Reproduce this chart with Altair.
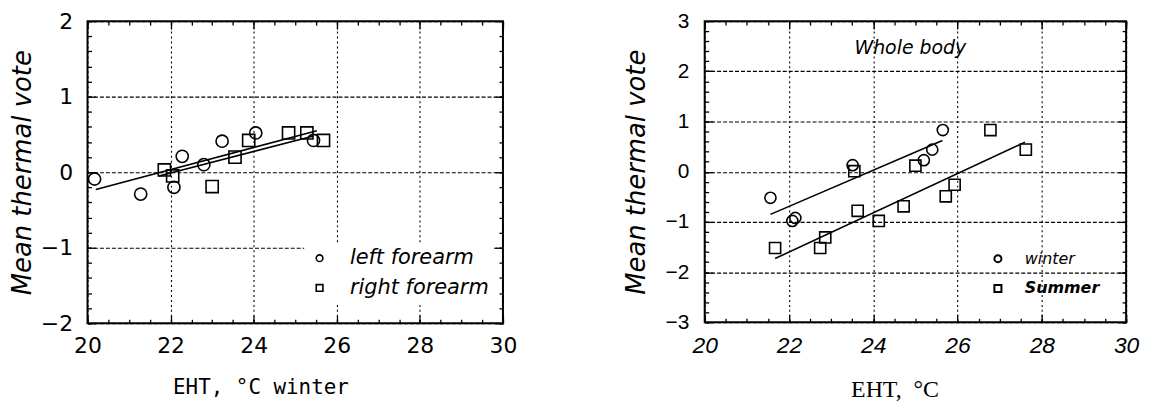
import altair as alt
import pandas as pd

# ---------------- data: left panel (winter, forearms) ----------------
lf_x = [20.17, 21.28, 22.08, 22.28, 22.8, 23.24, 24.05, 25.44]
lf_y = [-0.09, -0.29, -0.2, 0.21, 0.1, 0.41, 0.52, 0.42]
rf_x = [21.85, 22.05, 23.0, 23.55, 23.88, 24.84, 25.28, 25.68]
rf_y = [0.03, -0.05, -0.19, 0.2, 0.42, 0.52, 0.52, 0.42]
lf_fit_x = [20.2, 25.52]
lf_fit_y = [-0.23, 0.55]
rf_fit_x = [21.72, 25.44]
rf_fit_y = [-0.05, 0.48]
left_series = ["left forearm", "right forearm"]

# ---------------- data: right panel (whole body) ----------------
wi_x = [21.56, 22.08, 22.15, 23.51, 25.2, 25.4, 25.65]
wi_y = [-0.52, -0.98, -0.92, 0.13, 0.23, 0.44, 0.83]
su_x = [21.67, 22.74, 22.86, 23.55, 23.63, 24.13, 24.72, 25.0, 25.72, 25.93, 26.78, 27.62]
su_y = [-1.52, -1.52, -1.31, 0.01, -0.78, -0.98, -0.69, 0.12, -0.49, -0.26, 0.83, 0.44]
wi_fit_x = [21.56, 25.64]
wi_fit_y = [-0.85, 0.62]
su_fit_x = [21.67, 27.6]
su_fit_y = [-1.73, 0.59]
right_series = ["winter", "Summer"]
note_text = ["Whole body"]
note_x = [24.88]
note_y = [2.47]

x_domain = [20, 30]
left_y_domain = [-2, 2]
right_y_domain = [-3, 3]

x_major = [20, 22, 24, 26, 28, 30]
x_minor = [20 + 0.5 * i for i in range(21)]
left_y_major = [-2, -1, 0, 1, 2]
left_y_minor = [round(-2 + 0.2 * i, 1) for i in range(21)]
right_y_major = [-3, -2, -1, 0, 1, 2, 3]
right_y_minor = [round(-3 + 0.2 * i, 1) for i in range(31)]


def pts_df(xs1, ys1, xs2, ys2, names):
    return pd.DataFrame({
        "eht": xs1 + xs2,
        "vote": ys1 + ys2,
        "series": [names[0]] * len(xs1) + [names[1]] * len(xs2),
    })


left_pts = pts_df(lf_x, lf_y, rf_x, rf_y, left_series)
left_fit = pts_df(lf_fit_x, lf_fit_y, rf_fit_x, rf_fit_y, left_series)
right_pts = pts_df(wi_x, wi_y, su_x, su_y, right_series)
right_fit = pts_df(wi_fit_x, wi_fit_y, su_fit_x, su_fit_y, right_series)
note_df = pd.DataFrame({"eht": note_x, "vote": note_y, "text": note_text})

MAJ = 8
MIN = 4


def main_x_axis(title, lfont, lstyle, lsize, tfont, tsize, title_x):
    return alt.Axis(
        values=x_major, format="d", title=title, orient="bottom",
        labelOverlap=False, labelFlush=False,
        labelFont=lfont, labelFontStyle=lstyle, labelFontSize=lsize, labelColor="black",
        labelPadding=12, offset=-MAJ, tickSize=MAJ, tickColor="black", tickWidth=1.3,
        domain=False, grid=True, gridColor="black", gridWidth=1.1, gridDash=[2, 3],
        titleFont=tfont, titleFontSize=tsize, titleFontWeight="normal",
        titleColor="black", titlePadding=21, titleX=title_x,
    )


def main_y_axis(values, lfont, lsize, lpad, tpad):
    return alt.Axis(
        values=values, format="d", title="Mean thermal vote", orient="left",
        labelOverlap=False, labelFlush=False,
        labelFont=lfont, labelFontSize=lsize, labelColor="black",
        labelPadding=lpad, offset=-MAJ, tickSize=MAJ, tickColor="black", tickWidth=1.3,
        domain=False, grid=True, gridColor="black", gridWidth=1.1, gridDash=[4, 2],
        titleFont="DejaVu Sans", titleFontSize=26, titleFontStyle="italic",
        titleFontWeight="normal", titleColor="black", titlePadding=tpad,
    )


def tick_axis(values, orient, size):
    return alt.Axis(
        values=values, orient=orient, labels=False, domain=False, grid=False, title=None,
        offset=-size, tickSize=size, tickColor="black", tickWidth=1.3,
    )


def panel(pts, fit, y_domain, y_major, y_minor, names, xaxis, yaxis, legend, psize):
    xs = alt.Scale(domain=x_domain, nice=False, zero=False)
    ys = alt.Scale(domain=y_domain, nice=False, zero=False)
    points = alt.Chart(pts).mark_point(
        filled=False, color="black", strokeWidth=1.6, opacity=1, size=psize
    ).encode(
        x=alt.X("eht:Q", scale=xs, axis=xaxis),
        y=alt.Y("vote:Q", scale=ys, axis=yaxis),
        shape=alt.Shape("series:N", scale=alt.Scale(domain=names, range=["circle", "square"]),
                        legend=legend),
    )
    lines = alt.Chart(fit).mark_line(color="black", strokeWidth=1.6).encode(
        x=alt.X("eht:Q", scale=xs, axis=tick_axis(x_major, "top", MAJ)),
        y=alt.Y("vote:Q", scale=ys, axis=tick_axis(y_major, "right", MAJ)),
        detail="series:N",
    )
    minor_a = alt.Chart(fit).mark_line(strokeOpacity=0).encode(
        x=alt.X("eht:Q", scale=xs, axis=tick_axis(x_minor, "bottom", MIN)),
        y=alt.Y("vote:Q", scale=ys, axis=tick_axis(y_minor, "left", MIN)),
        detail="series:N",
    )
    minor_b = alt.Chart(fit).mark_line(strokeOpacity=0).encode(
        x=alt.X("eht:Q", scale=xs, axis=tick_axis(x_minor, "top", MIN)),
        y=alt.Y("vote:Q", scale=ys, axis=tick_axis(y_minor, "right", MIN)),
        detail="series:N",
    )
    return [points, lines, minor_a, minor_b]


left_legend = alt.Legend(
    orient="none", legendX=218, legendY=223, title=None, direction="vertical",
    labelFont="DejaVu Sans", labelFontStyle="italic", labelFontSize=21, labelColor="black",
    symbolSize=45, symbolStrokeWidth=1.6, symbolStrokeColor="black", symbolFillColor="transparent",
    rowPadding=8, labelOffset=20, fillColor="white", padding=5,
)
right_legend = alt.Legend(
    orient="none", legendX=282, legendY=226, title=None, direction="vertical",
    labelFont="DejaVu Sans", labelFontStyle="italic", labelFontSize=16, labelColor="black",
    labelFontWeight=alt.ExprRef(expr="datum.label == 'Summer' ? 'bold' : 'normal'"),
    symbolSize=50, symbolStrokeWidth=2, symbolStrokeColor="black", symbolFillColor="transparent",
    rowPadding=14, labelOffset=19, padding=5,
)

left_layers = panel(
    left_pts, left_fit, left_y_domain, left_y_major, left_y_minor, left_series,
    main_x_axis("EHT, °C winter", "DejaVu Sans", "normal", 22, "DejaVu Sans Mono", 21, 174),
    main_y_axis(left_y_major, "DejaVu Sans", 22, 15, 5),
    left_legend, 150,
)
left = alt.layer(*left_layers).resolve_axis(x="independent", y="independent").properties(
    width=418, height=304)

right_layers = panel(
    right_pts, right_fit, right_y_domain, right_y_major, right_y_minor, right_series,
    main_x_axis("EHT,\u00a0\u00a0°C", "Liberation Sans", "italic", 23, "Liberation Serif", 24, 191),
    main_y_axis(right_y_major, "Liberation Sans", 21, 16, 16),
    right_legend, 125,
)
note = alt.Chart(note_df).mark_text(
    font="DejaVu Sans", fontStyle="italic", fontSize=19, color="black"
).encode(
    x=alt.X("eht:Q", scale=alt.Scale(domain=x_domain, nice=False, zero=False), axis=None),
    y=alt.Y("vote:Q", scale=alt.Scale(domain=right_y_domain, nice=False, zero=False), axis=None),
    text="text:N",
)
right = alt.layer(*right_layers, note).resolve_axis(x="independent", y="independent").properties(
    width=424, height=303)

chart = alt.hconcat(left, right, spacing=105).resolve_scale(
    x="independent", y="independent", shape="independent"
).resolve_legend(shape="independent").properties(
    padding={"left": 0, "top": 0, "right": 5, "bottom": 0}, background="white"
).configure_view(stroke="black", strokeWidth=2)

chart.save("out.html", embed_options={"renderer": "svg", "actions": False})
